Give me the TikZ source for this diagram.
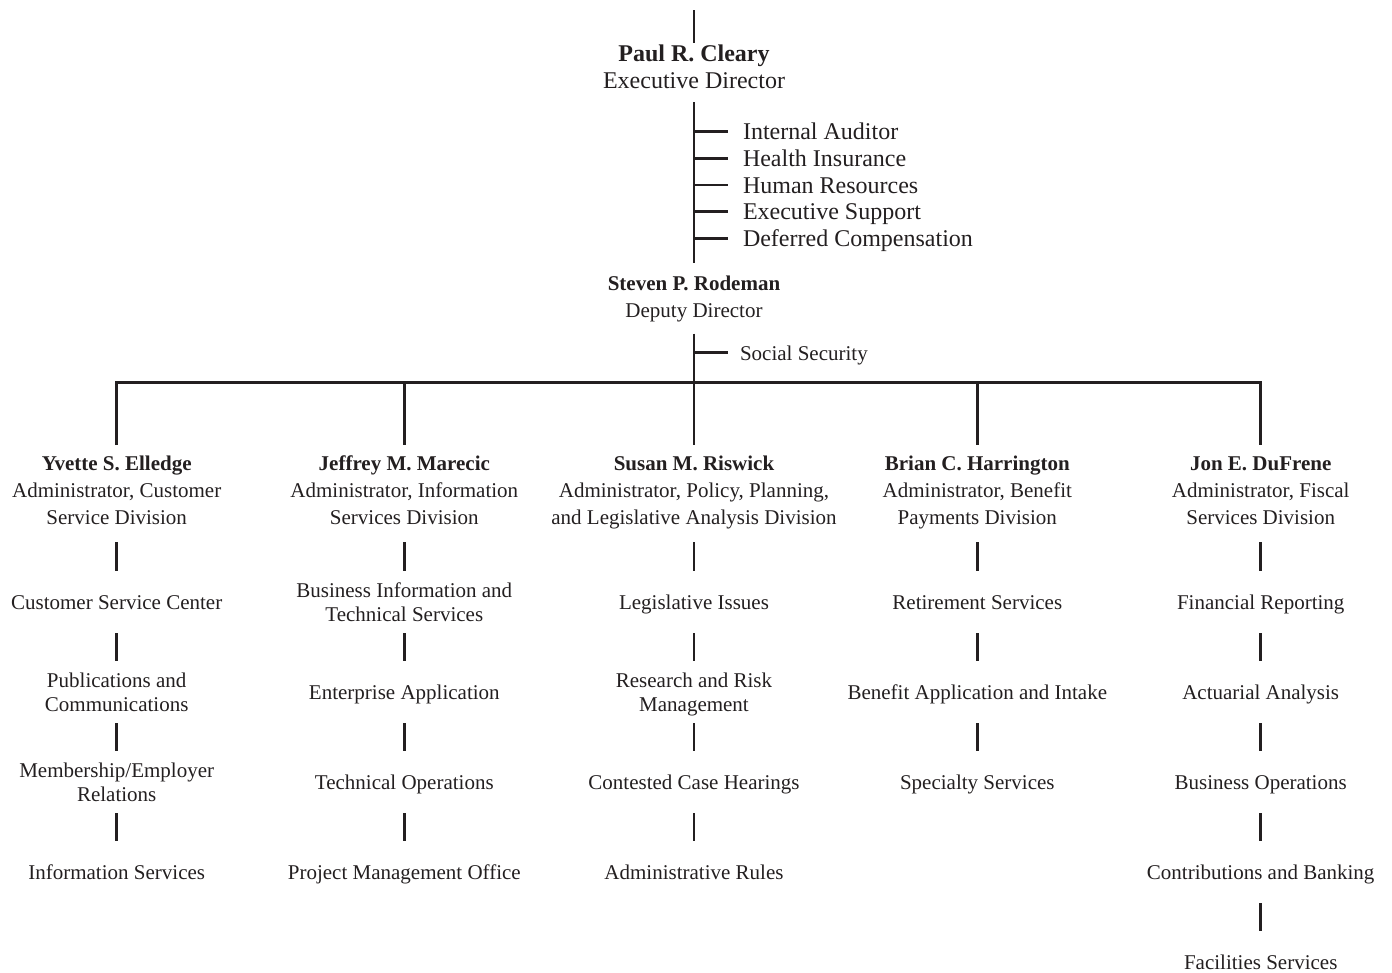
\documentclass[tikz,border=0pt]{standalone}
\usepackage{fontspec}
\setmainfont{Liberation Serif}
\definecolor{ink}{RGB}{35,31,32}
\newcommand\stA{\rule[-5pt]{0pt}{22pt}}
\newcommand\stB{\rule[-5pt]{0pt}{24pt}}
\begin{document}
\begin{tikzpicture}[x=1pt,y=-1pt,
  every node/.style={inner sep=0pt, outer sep=0pt, text=ink},
  ln/.style={draw=ink, line width=2.6pt},
  big/.style={font=\fontsize{24}{27}\selectfont, align=center},
  subitem/.style={font=\fontsize{24}{27}\selectfont, anchor=west, text height=20pt, text depth=4pt},
  hdr/.style={font=\fontsize{21}{27}\selectfont, align=center},
  item/.style={font=\fontsize{21}{24}\selectfont, align=center},
  hbar/.style={ln, shorten <=50.5pt, shorten >=32pt},
  ibar/.style={ln, shorten <=30pt, shorten >=32pt}]
\useasboundingbox (0,0) rectangle (1392,972);

% top section
\coordinate (top) at (694,10);
\node[big] (paul) at (694,68.25) {\stB\textbf{Paul R. Cleary}\\Executive Director\stB};
\node[subitem] (ia) at (743,131.5) {Internal Auditor};
\node[subitem] (hi) at (743,158.25) {Health Insurance};
\node[subitem] (hr) at (743,185) {Human Resources};
\node[subitem] (es) at (743,211.75) {Executive Support};
\node[subitem] (dc) at (743,238.5) {Deferred Compensation};
\node[hdr] (dep) at (694,297.5) {\stA\textbf{Steven P. Rodeman}\\Deputy Director\stA};
\node[font=\fontsize{21}{24}\selectfont, anchor=west, text height=18pt, text depth=3pt] (ss) at (740,352.7) {Social Security};
\coordinate (bus) at (694,382.5);

\draw[ln] (top) -- (paul.north);
\draw[ln] ([yshift=-8.5pt]paul.south) -- ([yshift=10.3pt]dep.north);
\foreach \n in {ia,hi,hr,es,dc}
  \draw[ln] (\n.west -| paul.south) -- ([xshift=-15pt]\n.west);
\draw[ln] ([yshift=-11.5pt]dep.south) -- (bus);
\draw[ln] (ss.west -| dep.south) -- ([xshift=-12pt]ss.west);

% division heads
\node[hdr] (h1) at (116.7,491.5) {\stA\textbf{Yvette S. Elledge}\\Administrator, Customer\\Service Division\stA};
\node[hdr] (h2) at (404.3,491.5) {\stA\textbf{Jeffrey M. Marecic}\\Administrator, Information\\Services Division\stA};
\node[hdr] (h3) at (694,491.5) {\stA\textbf{Susan M. Riswick}\\Administrator, Policy, Planning,\\and Legislative Analysis Division\stA};
\node[hdr] (h4) at (977.3,491.5) {\stA\textbf{Brian C. Harrington}\\Administrator, Benefit\\Payments Division\stA};
\node[hdr] (h5) at (1260.7,491.5) {\stA\textbf{Jon E. DuFrene}\\Administrator, Fiscal\\Services Division\stA};

\draw[ln] ([yshift=8.5pt]h1.north) |- (bus) -| ([yshift=8.5pt]h5.north);
\foreach \h in {h2,h3,h4}
  \draw[ln] (\h.north |- bus) -- ([yshift=8.5pt]\h.north);

% column 1
\node[item] (a1) at (116.7,603) {\stA Customer Service Center\stA};
\node[item] (a2) at (116.7,693) {\stA Publications and\\Communications\stA};
\node[item] (a3) at (116.7,783) {\stA Membership/Employer\\Relations\stA};
\node[item] (a4) at (116.7,873) {\stA Information Services\stA};
% column 2
\node[item] (b1) at (404.3,603) {\stA Business Information and\\Technical Services\stA};
\node[item] (b2) at (404.3,693) {\stA Enterprise Application\stA};
\node[item] (b3) at (404.3,783) {\stA Technical Operations\stA};
\node[item] (b4) at (404.3,873) {\stA Project Management Office\stA};
% column 3
\node[item] (c1) at (694,603) {\stA Legislative Issues\stA};
\node[item] (c2) at (694,693) {\stA Research and Risk\\Management\stA};
\node[item] (c3) at (694,783) {\stA Contested Case Hearings\stA};
\node[item] (c4) at (694,873) {\stA Administrative Rules\stA};
% column 4
\node[item] (d1) at (977.3,603) {\stA Retirement Services\stA};
\node[item] (d2) at (977.3,693) {\stA Benefit Application and Intake\stA};
\node[item] (d3) at (977.3,783) {\stA Specialty Services\stA};
% column 5
\node[item] (e1) at (1260.7,603) {\stA Financial Reporting\stA};
\node[item] (e2) at (1260.7,693) {\stA Actuarial Analysis\stA};
\node[item] (e3) at (1260.7,783) {\stA Business Operations\stA};
\node[item] (e4) at (1260.7,873) {\stA Contributions and Banking\stA};
\node[item] (e5) at (1260.7,963) {\stA Facilities Services\stA};

\foreach \h/\f in {h1/a1,h2/b1,h3/c1,h4/d1,h5/e1}
  \draw[hbar] (\h.center) -- (\f.center);
\foreach \p/\q in {a1/a2,a2/a3,a3/a4,b1/b2,b2/b3,b3/b4,c1/c2,c2/c3,c3/c4,d1/d2,d2/d3,e1/e2,e2/e3,e3/e4,e4/e5}
  \draw[ibar] (\p.center) -- (\q.center);
\end{tikzpicture}
\end{document}
